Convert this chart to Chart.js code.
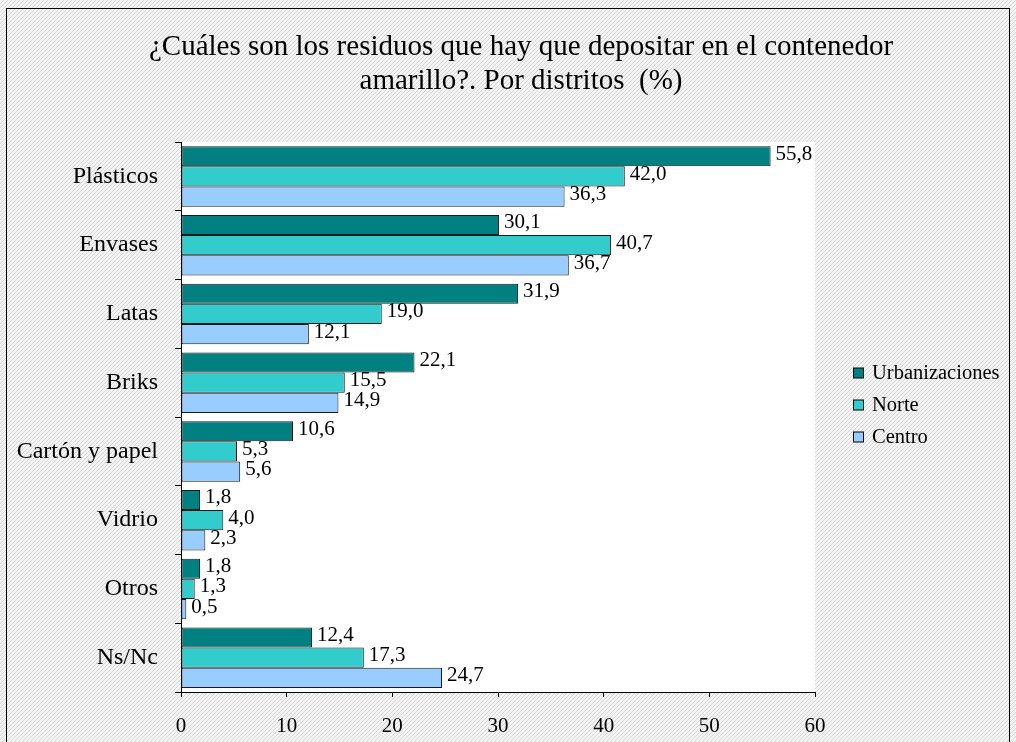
<!DOCTYPE html>
<html>
<head>
<meta charset="utf-8">
<script src="https://cdn.jsdelivr.net/npm/chart.js@4/dist/chart.umd.min.js"></script>
<style>
  html, body { margin: 0; padding: 0; background: #fff; }
  canvas { display: block; }
</style>
</head>
<body>
<canvas id="chart" width="1016" height="742"></canvas>
<script>
// Datos del gráfico
const categories = ['Plásticos', 'Envases', 'Latas', 'Briks', 'Cartón y papel', 'Vidrio', 'Otros', 'Ns/Nc'];
const urbanizaciones = [55.8, 30.1, 31.9, 22.1, 10.6, 1.8, 1.8, 12.4];
const norte = [42.0, 40.7, 19.0, 15.5, 5.3, 4.0, 1.3, 17.3];
const centro = [36.3, 36.7, 12.1, 14.9, 5.6, 2.3, 0.5, 24.7];
const xTicks = [0, 10, 20, 30, 40, 50, 60];
const titleLines = ['¿Cuáles son los residuos que hay que depositar en el contenedor', 'amarillo?. Por distritos  (%)'];

const serif = '"Liberation Serif", "Times New Roman", serif';

// Fondo rayado fuera del área del gráfico
function makePattern(ctx) {
    const p = document.createElement('canvas');
    p.width = 4; p.height = 4;
    const pc = p.getContext('2d');
    pc.fillStyle = '#f4f4f4';
    pc.fillRect(0, 0, 4, 4);
    pc.fillStyle = '#d6d6d6';
    for (let i = 0; i < 4; i++) pc.fillRect(i, 3 - i, 1, 1);
    return ctx.createPattern(p, 'repeat');
}

const backgroundPlugin = {
    id: 'background',
    beforeDraw(chart) {
        const { ctx, chartArea, width, height } = chart;
        ctx.save();
        ctx.fillStyle = makePattern(ctx);
        ctx.fillRect(0, 0, width, height);
        ctx.fillStyle = '#ffffff';
        ctx.fillRect(chartArea.left, chartArea.top, chartArea.right - chartArea.left, chartArea.bottom - chartArea.top);
        ctx.strokeStyle = '#000';
        ctx.lineWidth = 1;
        ctx.strokeRect(6.5, 8.5, width - 13, height + 10);
        ctx.restore();
    },
    afterDraw(chart) {
        const { ctx } = chart;
        ctx.save();
        // título
        ctx.fillStyle = '#000';
        ctx.font = '29px ' + serif;
        ctx.textAlign = 'center';
        ctx.textBaseline = 'middle';
        titleLines.forEach((t, i) => ctx.fillText(t, 521, 47 + i * 34));

        // leyenda
        ctx.font = '20.5px ' + serif;
        ctx.textAlign = 'left';
        chart.data.datasets.forEach((ds, i) => {
            const y = 373.5 + i * 32;
            ctx.fillStyle = ds.backgroundColor;
            ctx.fillRect(853.5, y - 5.5, 10, 10);
            ctx.strokeStyle = '#000';
            ctx.strokeRect(853.5, y - 5.5, 10, 10);
            ctx.fillStyle = '#000';
            ctx.fillText(ds.label, 872, y);
        });
        ctx.restore();
    }
};

// Etiquetas de valor al final de cada barra
const valueLabels = {
    id: 'valueLabels',
    afterDatasetsDraw(chart) {
        const { ctx } = chart;
        ctx.save();
        ctx.font = '21px ' + serif;
        ctx.fillStyle = '#000';
        ctx.textAlign = 'left';
        ctx.textBaseline = 'middle';
        chart.data.datasets.forEach((ds, i) => {
            chart.getDatasetMeta(i).data.forEach((bar, j) => {
                const txt = ds.data[j].toFixed(1).replace('.', ',');
                ctx.fillText(txt, bar.x + 5, bar.y - 2);
            });
        });
        ctx.restore();
    }
};

new Chart(document.getElementById('chart'), {
    type: 'bar',
    data: {
        labels: categories,
        datasets: [
            { label: 'Urbanizaciones', data: urbanizaciones, backgroundColor: '#008080' },
            { label: 'Norte', data: norte, backgroundColor: '#33CCCC' },
            { label: 'Centro', data: centro, backgroundColor: '#99CCFF' }
        ]
    },
    options: {
        indexAxis: 'y',
        responsive: false,
        animation: false,
        devicePixelRatio: 1,
        layout: { padding: { left: 0, right: 201, top: 142, bottom: 0 } },
        datasets: {
            bar: {
                borderColor: '#1a1a1a',
                borderWidth: 1,
                borderSkipped: false,
                categoryPercentage: 0.88,
                barPercentage: 1.0
            }
        },
        plugins: {
            legend: { display: false },
            tooltip: { enabled: false },
            title: { display: false }
        },
        scales: {
            x: {
                min: 0,
                max: 60,
                afterBuildTicks: s => { s.ticks = xTicks.map(v => ({ value: v })); },
                afterFit: s => { s.height = 50; },
                border: { color: '#000', width: 1 },
                grid: { drawOnChartArea: false, color: '#000', tickLength: 5 },
                ticks: { color: '#000', font: { family: serif, size: 21 }, padding: 17 }
            },
            y: {
                afterFit: s => { s.width = 181; },
                border: { color: '#000', width: 1 },
                grid: { drawOnChartArea: false, color: '#000', tickLength: 6, offset: true },
                ticks: { color: '#000', font: { family: serif, size: 24 }, padding: 17 }
            }
        }
    },
    plugins: [backgroundPlugin, valueLabels]
});
</script>
</body>
</html>
